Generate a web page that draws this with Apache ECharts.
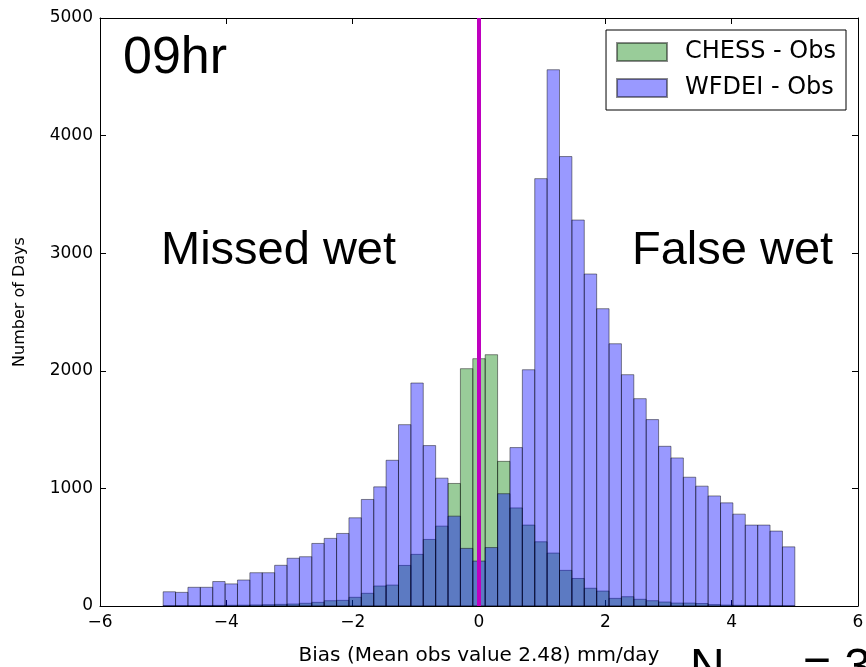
<!DOCTYPE html>
<html>
<head>
<meta charset="utf-8">
<script src="https://cdn.jsdelivr.net/npm/echarts@6/dist/echarts.min.js"></script>
<style>
html,body{margin:0;padding:0;background:#fff;}
#chart{width:866px;height:667px;}
</style>
</head>
<body>
<div id="chart"></div>
<script>
// Histogram definition (51 bins between -5 and 5)
const binMin = -5;
const binMax = 5;
const binCount = 51;

// Counts per bin
const chessObs = [2,3,3,4,5,6,7,9,11,14,17,23,31,45,48,74,108,170,178,345,439,566,679,1042,2018,2103,2137,1230,834,688,546,450,303,234,151,127,65,79,57,45,34,25,25,21,12,8,6,4,3,2,1];
const wfdeiObs = [121,116,159,159,208,188,221,283,283,346,406,419,532,575,617,750,906,1013,1239,1542,1896,1364,1087,764,490,382,497,955,1347,2009,3634,4560,3822,3282,2823,2528,2230,1967,1763,1585,1358,1259,1095,1019,936,877,781,688,688,637,503];

const seriesNames = ['CHESS - Obs', 'WFDEI - Obs'];
const zeroLine = [[0,0],[0,5000]];

function toData(counts){
  const w = (binMax - binMin) / binCount;
  return counts.map((c,i)=>[binMin + i*w, binMin + (i+1)*w, c]);
}

function renderBar(params, api){
  const p0 = api.coord([api.value(0), 0]);
  const p1 = api.coord([api.value(1), api.value(2)]);
  return {
    type: 'rect',
    shape: {x: p0[0], y: p1[1], width: p1[0]-p0[0], height: p0[1]-p1[1]},
    style: api.style()
  };
}

const chart = echarts.init(document.getElementById('chart'), null, {renderer:'canvas'});
const tickFont = {fontFamily:'DejaVu Sans', fontSize:17, color:'#000'};
const plain = v => String(v).replace('-', '\u2212');

chart.setOption({
  animation:false,
  backgroundColor:'#fff',
  grid:{left:100, right:8, top:18, bottom:61, show:false, containLabel:false, outerBoundsMode:'none'},
  legend:{
    orient:'vertical', right:20, top:30,
    backgroundColor:'#fff', borderColor:'#000', borderWidth:1,
    padding:[10,10,10,10], itemGap:12, itemWidth:50, itemHeight:18,
    textStyle:{fontFamily:'DejaVu Sans', fontSize:24, color:'#000', padding:[0,0,0,13]},
    data:seriesNames.map(n=>({name:n, icon:'rect'}))
  },
  xAxis:[{
    type:'value', min:-6, max:6, interval:2,
    name:'Bias (Mean obs value 2.48) mm/day', nameLocation:'middle', nameGap:40,
    nameTextStyle:{fontFamily:'DejaVu Sans', fontSize:20, color:'#000'},
    axisLine:{show:true, onZero:false, lineStyle:{color:'#000', width:1}},
    axisTick:{show:true, inside:true, length:6, lineStyle:{color:'#000'}},
    axisLabel:Object.assign({margin:8, formatter:plain}, tickFont),
    splitLine:{show:false}
  },{
    type:'value', position:'top', min:-6, max:6, interval:2,
    axisLine:{show:true, onZero:false, lineStyle:{color:'#000', width:1}},
    axisTick:{show:true, inside:true, length:6, lineStyle:{color:'#000'}},
    axisLabel:{show:false}, splitLine:{show:false}
  }],
  yAxis:[{
    type:'value', position:'left', min:0, max:5000, interval:1000,
    name:'Number of Days', nameLocation:'middle', nameGap:72,
    nameTextStyle:{fontFamily:'DejaVu Sans', fontSize:16, color:'#000', padding:[0,0,0,20]},
    axisLine:{show:true, onZero:false, lineStyle:{color:'#000', width:1}},
    axisTick:{show:true, inside:true, length:6, lineStyle:{color:'#000'}},
    axisLabel:Object.assign({margin:7, formatter:plain}, tickFont),
    splitLine:{show:false}
  },{
    type:'value', position:'right', min:0, max:5000, interval:1000,
    axisLine:{show:true, onZero:false, lineStyle:{color:'#000', width:1}},
    axisTick:{show:true, inside:true, length:6, lineStyle:{color:'#000'}},
    axisLabel:{show:false}, splitLine:{show:false}
  }],
  series:[
    {
      name:seriesNames[0], type:'custom', renderItem:renderBar,
      encode:{x:[0,1], y:2}, data:toData(chessObs), clip:true, z:2,
      itemStyle:{color:'rgba(0,128,0,0.4)', borderColor:'rgba(0,0,0,0.45)', borderWidth:1}
    },
    {
      name:seriesNames[1], type:'custom', renderItem:renderBar,
      encode:{x:[0,1], y:2}, data:toData(wfdeiObs), clip:true, z:3,
      itemStyle:{color:'rgba(0,0,255,0.4)', borderColor:'rgba(0,0,0,0.45)', borderWidth:1}
    },
    {
      name:'zero', type:'line', data:zeroLine, symbol:'none', z:5,
      lineStyle:{color:'#bf00bf', width:4}, silent:true
    }
  ],
  graphic:[
    {type:'text', left:123, top:33, style:{text:'09hr', font:'52px "Liberation Sans", Arial', fill:'#000'}},
    {type:'text', left:161, top:228, style:{text:'Missed wet', font:'47px "Liberation Sans", Arial', fill:'#000'}},
    {type:'text', left:632, top:228, style:{text:'False wet', font:'47px "Liberation Sans", Arial', fill:'#000'}},
    {type:'text', left:690, top:645, style:{text:'N', font:'48px "Liberation Sans", Arial', fill:'#000'}},
    {type:'text', left:803, top:645, style:{text:'= 36525', font:'48px "Liberation Sans", Arial', fill:'#000'}}
  ]
});
</script>
</body>
</html>
